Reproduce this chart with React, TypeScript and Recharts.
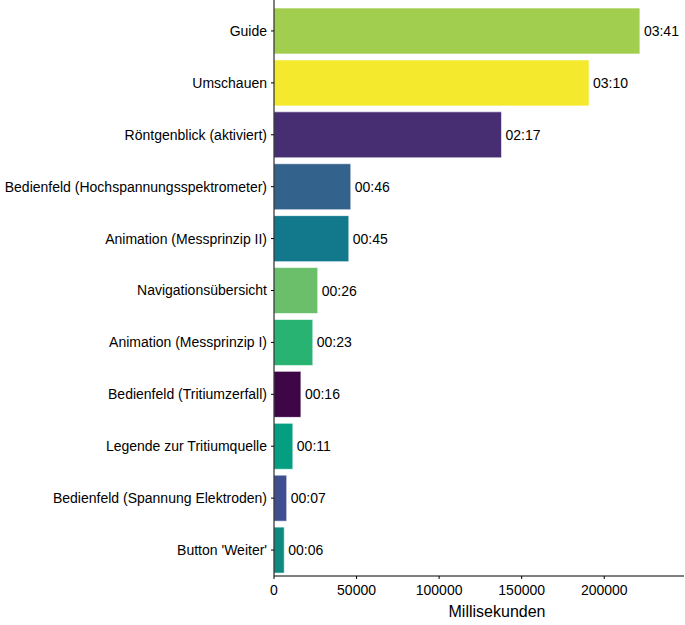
import { BarChart, Bar, XAxis, YAxis, Cell, LabelList } from 'recharts';

const categories = [
  'Guide',
  'Umschauen',
  'Röntgenblick (aktiviert)',
  'Bedienfeld (Hochspannungsspektrometer)',
  'Animation (Messprinzip II)',
  'Navigationsübersicht',
  'Animation (Messprinzip I)',
  'Bedienfeld (Tritiumzerfall)',
  'Legende zur Tritiumquelle',
  'Bedienfeld (Spannung Elektroden)',
  "Button 'Weiter'",
];

const durations = [221600, 190800, 137800, 46500, 45300, 26500, 23500, 16300, 11400, 7700, 6200];

const colors = [
  '#a2ce4f',
  '#f4e92d',
  '#472d72',
  '#33628d',
  '#12798d',
  '#6bbf6b',
  '#28b372',
  '#3e0646',
  '#049e80',
  '#3f4e8e',
  '#0e8a80',
];

const xTicks = [0, 50000, 100000, 150000, 200000];

const data = categories.map((name, i) => ({ name, ms: durations[i] }));

const toMinSec = (v: number) => {
  const total = Math.floor(v / 1000);
  const m = Math.floor(total / 60);
  const s = total % 60;
  return `${String(m).padStart(2, '0')}:${String(s).padStart(2, '0')}`;
};

const font = 'Liberation Sans, Arial, sans-serif';

export default function App() {
  return (
    <div style={{ position: 'absolute', left: 0, top: 0, background: '#fff' }}>
      <BarChart
        width={685}
        height={625}
        data={data}
        layout="vertical"
        margin={{ top: 0, right: 1, bottom: 0, left: 0 }}
      >
        <XAxis
          type="number"
          dataKey="ms"
          domain={[0, 248300]}
          ticks={xTicks}
          tickSize={3}
          tickMargin={6}
          stroke="#000"
          tick={{ fill: '#000', fontSize: 14, fontFamily: font }}
          height={49}
          label={{
            value: 'Millisekunden',
            position: 'insideBottom',
            offset: 8,
            dx: 18,
            fill: '#000',
            fontSize: 16,
            fontFamily: font,
          }}
        />
        <YAxis
          type="category"
          dataKey="name"
          width={274}
          padding={{ top: 5, bottom: 0 }}
          tickSize={3}
          tickMargin={4}
          stroke="#000"
          tick={{ fill: '#000', fontSize: 14, fontFamily: font }}
          interval={0}
        />
        <Bar dataKey="ms" barSize={46} isAnimationActive={false} stroke="#ffffff" strokeWidth={0.6}>
          {data.map((d, i) => (
            <Cell key={d.name} fill={colors[i]} />
          ))}
          <LabelList
            dataKey="ms"
            position="right"
            offset={4}
            formatter={(v: any) => toMinSec(Number(v))}
            style={{ fill: '#000', fontSize: 14, fontFamily: font }}
          />
        </Bar>
      </BarChart>
    </div>
  );
}
